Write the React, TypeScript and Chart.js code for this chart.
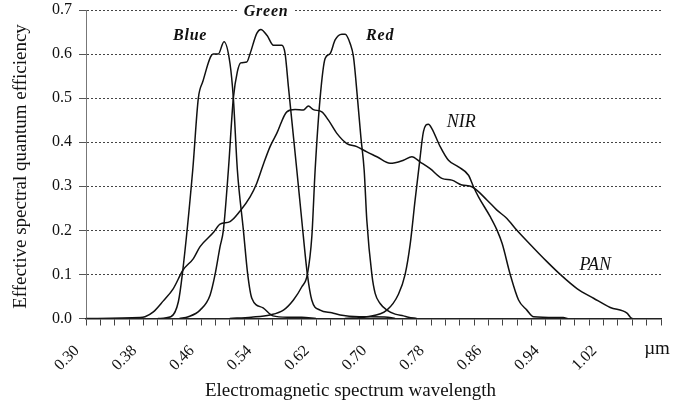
import React, { useEffect, useRef } from "react";
import { Chart, registerables } from "chart.js";

Chart.register(...registerables);

// ---- data (wavelength in µm, effective spectral quantum efficiency) ----
const blueWl = [0.40, 0.418, 0.4285, 0.434, 0.4485, 0.4563, 0.4624, 0.477, 0.484, 0.492, 0.5004, 0.505, 0.5106, 0.519, 0.525, 0.5307, 0.5464, 0.560, 0.58, 0.60, 0.62];
const blueQe = [0, 0.004, 0.038, 0.1, 0.337, 0.5, 0.537, 0.6, 0.6, 0.628, 0.578, 0.5, 0.337, 0.2, 0.1, 0.046, 0.024, 0.006, 0.003, 0.003, 0];

const greenWl = [0.43, 0.4424, 0.4587, 0.4726, 0.4796, 0.4865, 0.4911, 0.4981, 0.505, 0.5106, 0.5153, 0.5237, 0.5283, 0.5376, 0.5432, 0.552, 0.5607, 0.5724, 0.577, 0.5816, 0.5863, 0.5933, 0.6002, 0.608, 0.6141, 0.6257, 0.642, 0.6536, 0.68, 0.72, 0.73];
const greenQe = [0, 0.004, 0.019, 0.053, 0.1, 0.163, 0.2, 0.337, 0.5, 0.56, 0.58, 0.582, 0.601, 0.647, 0.656, 0.642, 0.62, 0.62, 0.601, 0.526, 0.45, 0.337, 0.223, 0.1, 0.042, 0.019, 0.013, 0.008, 0.004, 0.003, 0];

const redWl = [0.50, 0.53, 0.5561, 0.5747, 0.5886, 0.6003, 0.608, 0.6142, 0.6188, 0.6257, 0.6327, 0.6396, 0.6466, 0.6559, 0.6605, 0.6675, 0.6721, 0.6777, 0.6824, 0.687, 0.6907, 0.6977, 0.7023, 0.7092, 0.7186, 0.7301, 0.7417, 0.7486, 0.76];
const redQe = [0, 0.003, 0.008, 0.019, 0.042, 0.072, 0.1, 0.186, 0.337, 0.5, 0.59, 0.601, 0.632, 0.645, 0.645, 0.624, 0.594, 0.5, 0.412, 0.337, 0.223, 0.1, 0.057, 0.034, 0.019, 0.01, 0.006, 0.003, 0];

const nirWl = [0.66, 0.6907, 0.7186, 0.7347, 0.744, 0.751, 0.7579, 0.7639, 0.7695, 0.7765, 0.7812, 0.7928, 0.8043, 0.8182, 0.8322, 0.8391, 0.8461, 0.8624, 0.872, 0.879, 0.8902, 0.9018, 0.9134, 0.9227, 0.964, 0.97];
const nirQe = [0, 0.004, 0.019, 0.055, 0.1, 0.168, 0.269, 0.352, 0.424, 0.441, 0.431, 0.39, 0.359, 0.344, 0.325, 0.299, 0.276, 0.231, 0.2, 0.17, 0.1, 0.042, 0.019, 0.004, 0.002, 0];

const panWl = [0.30, 0.3752, 0.3821, 0.3937, 0.4076, 0.4215, 0.435, 0.4494, 0.4587, 0.4772, 0.4865, 0.5004, 0.5144, 0.5283, 0.5376, 0.5468, 0.5561, 0.5654, 0.5794, 0.5909, 0.6025, 0.6094, 0.6164, 0.6281, 0.6373, 0.649, 0.6629, 0.6768, 0.6907, 0.7047, 0.7232, 0.7417, 0.7534, 0.765, 0.7788, 0.7951, 0.809, 0.823, 0.8369, 0.8578, 0.8717, 0.8856, 0.8995, 0.9227, 0.9413, 0.9598, 0.9831, 1.0062, 1.0294, 1.0527, 1.0573, 1.06];
const panQe = [0, 0.002, 0.004, 0.015, 0.04, 0.068, 0.11, 0.136, 0.163, 0.195, 0.214, 0.22, 0.244, 0.276, 0.307, 0.35, 0.39, 0.42, 0.469, 0.474, 0.473, 0.482, 0.474, 0.469, 0.45, 0.42, 0.397, 0.39, 0.378, 0.367, 0.352, 0.359, 0.367, 0.355, 0.34, 0.318, 0.314, 0.303, 0.299, 0.269, 0.246, 0.227, 0.2, 0.16, 0.129, 0.1, 0.068, 0.046, 0.025, 0.012, 0.003, 0];

const xTickLabels = ["0.30", "0.38", "0.46", "0.54", "0.62", "0.70", "0.78", "0.86", "0.94", "1.02"];
const xUnitLabel = "µm";
const xMin = 0.3;
const xMax = 1.1;
const xStep = 0.02;
const yMin = 0;
const yMax = 0.7;
const yStep = 0.1;

const xTitle = "Electromagnetic spectrum wavelength";
const yTitle = "Effective spectral quantum efficiency";

// series names and where their labels sit (data coordinates)
const seriesNames = ["Blue", "Green", "Red", "NIR", "PAN"];
const labelWl = [0.4448, 0.5506, 0.7093, 0.822, 1.0085];
const labelQe = [0.6406, 0.695, 0.6406, 0.4456, 0.1213];

const FONT = "'Liberation Serif', 'Times New Roman', serif";

function pts(xs: number[], ys: number[]) {
  return xs.map((x, i) => ({ x, y: ys[i] }));
}

const annotPlugin = {
  id: "annot",
  afterDraw(chart: any) {
    const { ctx, scales } = chart;
    const x = scales.x;
    const y = scales.y;
    ctx.save();
    ctx.fillStyle = "#111";
    // y title
    ctx.save();
    ctx.translate(21, 166.5);
    ctx.rotate(-Math.PI / 2);
    ctx.font = `19px ${FONT}`;
    ctx.textAlign = "center";
    ctx.textBaseline = "middle";
    ctx.fillText(yTitle, 0, 0);
    ctx.restore();
    // x title
    ctx.font = `19px ${FONT}`;
    ctx.textAlign = "center";
    ctx.textBaseline = "middle";
    ctx.fillText(xTitle, 350.5, 391);
    // unit label
    ctx.fillText(xUnitLabel, x.getPixelForValue(xMax) - 4, 349);
    // series labels
    seriesNames.forEach((name, i) => {
      const px = x.getPixelForValue(labelWl[i]);
      const py = y.getPixelForValue(labelQe[i]);
      const big = i >= 3;
      ctx.font = big ? `italic 18px ${FONT}` : `italic bold 16px ${FONT}`;
      (ctx as any).letterSpacing = big ? "0px" : "0.8px";
      const w = ctx.measureText(name).width;
      if (name === "Green") {
        ctx.fillStyle = "#fff";
        ctx.fillRect(px - w / 2 - 6, py - 9, w + 12, 18);
        ctx.fillStyle = "#111";
      }
      ctx.textAlign = "center";
      ctx.textBaseline = "middle";
      ctx.fillText(name, px, py);
    });
    (ctx as any).letterSpacing = "0px";
    ctx.restore();
  },
};

export default function App() {
  const ref = useRef<HTMLCanvasElement | null>(null);
  useEffect(() => {
    if (!ref.current) return;
    const mk = (xs: number[], ys: number[]) => ({
      data: pts(xs, ys),
      borderColor: "#111",
      borderWidth: 1.5,
      pointRadius: 0,
      fill: false,
      cubicInterpolationMode: "monotone" as const,
    });
    const chart = new Chart(ref.current, {
      type: "line",
      data: {
        datasets: [
          mk(blueWl, blueQe),
          mk(greenWl, greenQe),
          mk(redWl, redQe),
          mk(nirWl, nirQe),
          mk(panWl, panQe),
        ],
      },
      options: {
        animation: false,
        responsive: false,
        maintainAspectRatio: false,
        layout: { padding: { top: 10, right: 35, left: 0, bottom: 0 } },
        plugins: { legend: { display: false }, tooltip: { enabled: false } },
        scales: {
          x: {
            type: "linear",
            min: xMin,
            max: xMax,
            grid: {
              drawOnChartArea: false,
              drawTicks: true,
              tickLength: 7,
              tickColor: "#444",
              tickWidth: 1,
            },
            border: { display: true, color: "#222", width: 1.5 },
            ticks: {
              stepSize: xStep,
              autoSkip: false,
              maxRotation: 45,
              minRotation: 45,
              padding: 16,
              labelOffset: -9,
              color: "#111",
              font: { family: FONT, size: 16 },
              callback: (v: any) => {
                const i = Math.round((Number(v) - xMin) / xStep);
                if (i % 4 !== 0) return "";
                return xTickLabels[i / 4] ?? "";
              },
            },
            afterFit: (s: any) => {
              s.height = 89.5;
              s.paddingLeft = 0;
              s.paddingRight = 0;
            },
          },
          y: {
            type: "linear",
            min: yMin,
            max: yMax,
            grid: {
              color: "#444",
              lineWidth: 1,
              tickLength: 7,
              tickColor: "#555",
              tickBorderDash: [],
            },
            border: { display: true, color: "#777", width: 1, dash: [2, 2] },
            ticks: {
              stepSize: yStep,
              padding: 7,
              color: "#111",
              font: { family: FONT, size: 16 },
              callback: (v: any) => Number(v).toFixed(1),
            },
            afterFit: (s: any) => {
              s.width = 86;
              s.paddingTop = 0;
              s.paddingBottom = 0;
            },
          },
        },
      },
      plugins: [annotPlugin],
    });
    return () => chart.destroy();
  }, []);
  return (
    <div style={{ position: "fixed", left: 0, top: 0, width: 696, height: 408, background: "#fff" }}>
      <canvas ref={ref} width={696} height={408} style={{ width: 696, height: 408 }} />
    </div>
  );
}
